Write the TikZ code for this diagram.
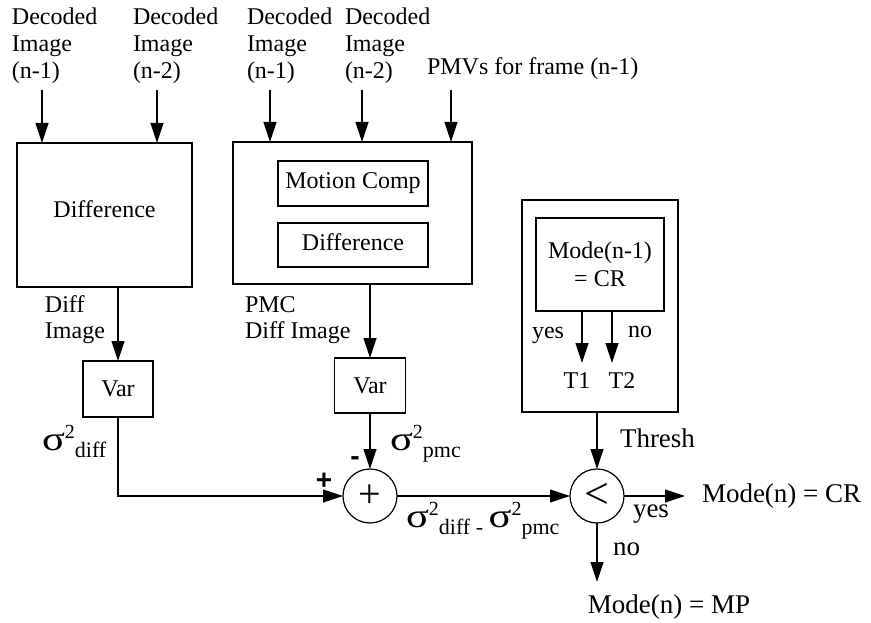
\documentclass[tikz,border=0pt]{standalone}
\usepackage{fontspec}
\setmainfont{Liberation Serif}
\newfontfamily\signfont{Liberation Sans}
\usetikzlibrary{arrows.meta}
\newcommand\sgm[1]{{\fontsize{34}{34}\selectfont\scalebox{1.25}[1]{σ}}\raisebox{12pt}{\fontsize{20}{20}\selectfont 2}\raisebox{-7pt}{\fontsize{22}{22}\selectfont #1}}
\newcommand\tl[1]{\begin{tabular}[t]{@{}l@{}}#1\end{tabular}}
\begin{document}
\begin{tikzpicture}[x=1pt,y=-1pt,line width=1.2pt,
  arr/.style={-{Triangle[length=20pt,width=13pt]}},
  box/.style={draw,inner sep=0pt,outer sep=0pt,font=\fontsize{24}{28}\selectfont,align=center},
  circ/.style={draw,circle,inner sep=0pt,outer sep=0pt,minimum size=54pt},
  lbl/.style={inner sep=0pt,outer sep=0pt,font=\fontsize{24}{27}\selectfont},
  lblb/.style={inner sep=0pt,outer sep=0pt,font=\fontsize{27}{30}\selectfont},
  sg/.style={inner sep=0pt,outer sep=0pt,anchor=base west}]
\useasboundingbox (0,0) rectangle (871,623);
% input labels
\node[lbl,anchor=base west] (l1) at (12,25) {\tl{Decoded\\Image\\(n-1)}};
\node[lbl,anchor=base west] (l2) at (133,25) {\tl{Decoded\\Image\\(n-2)}};
\node[lbl,anchor=base west] (l3) at (247,25) {\tl{Decoded\\Image\\(n-1)}};
\node[lbl,anchor=base west] (l4) at (345,25) {\tl{Decoded\\Image\\(n-2)}};
\node[lbl,anchor=base west] (l5) at (427,75) {PMVs for frame (n-1)};
% blocks
\node[box,minimum width=175pt,minimum height=144pt,text depth=12pt] (diff) at (104.5,215) {Difference};
\node[box,minimum width=239pt,minimum height=142pt] (pmc) at (352.5,213) {};
\node[box,minimum width=150pt,minimum height=45pt] (mc) at (353,183.5) {Motion Comp};
\node[box,minimum width=150pt,minimum height=44pt,text depth=5pt] (pd) at (353,245) {Difference};
\node[box,minimum width=70pt,minimum height=56pt] (var1) at (118,389) {Var};
\node[box,minimum width=71pt,minimum height=55pt] (var2) at (370,385.5) {Var};
\node[box,minimum width=156pt,minimum height=212pt] (thr) at (600,306) {};
\node[box,minimum width=128pt,minimum height=93pt] (mode) at (600,264.5) {Mode(n-1)\\= CR};
\node[circ,font=\fontsize{40}{40}\selectfont] (sum) at (370,496) {+};
\node[circ,font=\fontsize{44}{44}\selectfont] (cmp) at (597,496) {<};
% input arrows
\coordinate (i1) at (42,90);
\coordinate (i2) at (157,90);
\coordinate (i3) at (270,90);
\coordinate (i4) at (362,90);
\coordinate (i5) at (451,90);
\draw[arr] (i1) -- (i1 |- diff.north);
\draw[arr] (i2) -- (i2 |- diff.north);
\draw[arr] (i3) -- (i3 |- pmc.north);
\draw[arr] (i4) -- (i4 |- pmc.north);
\draw[arr] (i5) -- (i5 |- pmc.north);
% to var boxes
\draw[arr] (var1.north |- diff.south) -- (var1.north);
\draw[arr] (var2.north |- pmc.south) -- (var2.north);
\node[lbl,anchor=base west] (dl) at (45,312) {\fontsize{24}{26}\selectfont\tl{Diff\\Image}};
\node[lbl,anchor=base west] (pl) at (245,312) {\fontsize{24}{26}\selectfont\tl{PMC\\Diff Image}};
% sum
\draw[arr] (var1.south) |- (sum.west);
\draw[arr] (var2.south) -- (sum.north);
\node[sg] (s1) at (42,450) {\sgm{diff}};
\node[sg] (s2) at (390,450) {\sgm{pmc}};
\node[inner sep=0pt,font=\signfont\bfseries\fontsize{28}{28}\selectfont] (plus) at (324,481) {+};
\node[inner sep=0pt,font=\signfont\bfseries\fontsize{28}{28}\selectfont] (minus) at (355,461) {-};
\draw[arr] (sum.east) -- (cmp.west);
\node[sg] (s3) at (406,527) {\sgm{diff}\raisebox{-7pt}{\fontsize{22}{22}\selectfont\ -\ }\sgm{pmc}};
% threshold block
\coordinate (ta) at (582,363);
\coordinate (tb) at (612,363);
\draw[arr] (ta |- mode.south) -- (ta);
\draw[arr] (tb |- mode.south) -- (tb);
\node[lbl,anchor=base west] (yes1) at (532,338) {yes};
\node[lbl,anchor=base west] (no1) at (628,337) {no};
\node[lbl,anchor=base] (t1) at (577,388) {T1};
\node[lbl,anchor=base] (t2) at (622,388) {T2};
\draw[arr] (cmp.north |- thr.south) -- (cmp.north);
\node[lblb,anchor=base west] (th) at (620,447) {Thresh};
% outputs
\coordinate (oc) at (685,496);
\coordinate (om) at (597,582);
\draw[arr] (cmp.east) -- (oc);
\draw[arr] (cmp.south) -- (om);
\node[lblb,anchor=base west] (cr) at (702,502) {Mode(n) = CR};
\node[lblb,anchor=base west] (yes2) at (633,517) {yes};
\node[lblb,anchor=base west] (no2) at (613,555) {no};
\node[lblb,anchor=base] (mp) at (669,613) {Mode(n) = MP};
\end{tikzpicture}
\end{document}
